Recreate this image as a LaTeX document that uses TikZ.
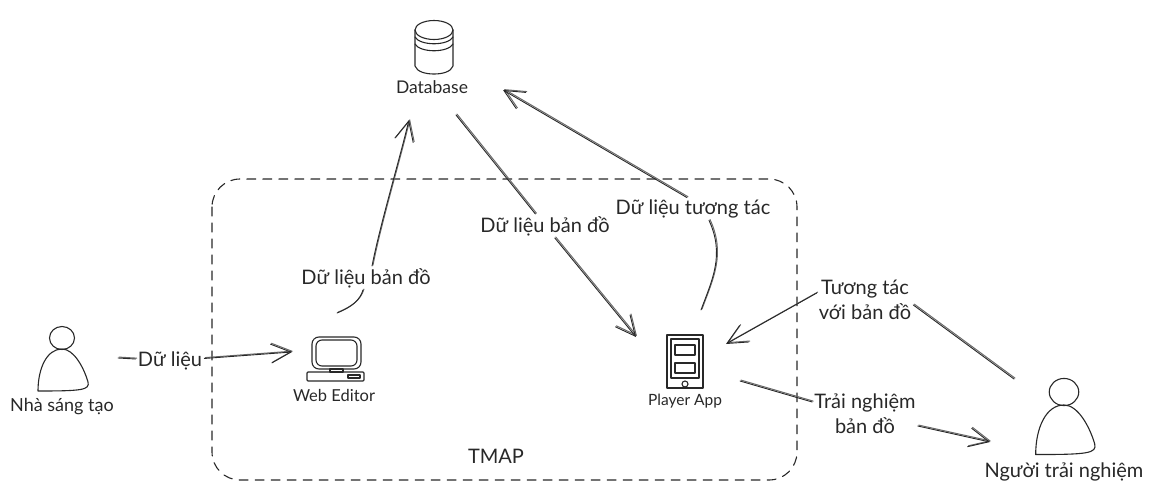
\documentclass[tikz,border=0pt]{standalone}
\usepackage{fontspec}
\setmainfont{Lato}
\usetikzlibrary{positioning, arrows.meta}
\definecolor{SketchInk}{RGB}{40,40,40}
\definecolor{SketchSoft}{RGB}{105,105,105}

\begin{document}
\begin{tikzpicture}[x=1pt, y=-1pt, line join=round, line cap=round]
        \tikzstyle{sketch} = [draw=SketchInk, line width=0.9pt,
          preaction={draw=SketchSoft, line width=1pt, transform canvas={shift={(1pt,0.9pt)}}}]
        \tikzstyle{flow} = [sketch, -{Straight Barb[length=20pt, width=19pt]}]
        \tikzstyle{icon} = [draw=SketchInk, line width=1.1pt]
        \tikzstyle{bigtext} = [text=SketchInk, inner sep=2pt, align=center,
          font=\fontsize{20}{25}\selectfont]
        \tikzstyle{smalltext} = [text=SketchInk, inner sep=1pt, font=\fontsize{16.5}{18}\selectfont]
        \useasboundingbox (0,0) rectangle (1154,498);

        % dashed frame
        \draw[draw=SketchInk, line width=1.1pt, dash pattern=on 9pt off 7pt, rounded corners=28pt]
          (212,179) rectangle (797,480);
        \node[bigtext] (lblTmap) at (496,456) {TMAP};

        % the two people
        \foreach \px/\py/\ps in {62/338/1, 1064/392/1.18} {
          \begin{scope}[shift={(\px,\py)}, scale=\ps]
            \draw[icon] (0,0) ellipse [x radius=12.5, y radius=11.5];
            \draw[icon] (-24,53) .. controls (-24,30) and (-15,11) .. (0,11)
              .. controls (12,11) and (22,30) .. (26,44)
              .. controls (28,52) and (20,53) .. (-24,53) -- cycle;
          \end{scope}
        }
        \node[smalltext, font=\fontsize{18}{18}\selectfont] (lblCreator) at (62,407) {Nhà sáng tạo};
        \node[bigtext] (lblPlayer) at (1064,472) {Người trải nghiệm};

        % database
        \draw[icon] (434,30) ellipse [x radius=19, y radius=9.5];
        \draw[icon] (415,30) -- (415,66) .. controls (417,72) and (426,74) .. (434,74)
          .. controls (442,74) and (451,72) .. (453,66) -- (453,30);
        \draw[icon] (415,37) .. controls (420,46) and (448,46) .. (453,37);
        \draw[icon] (415,44) .. controls (420,53) and (448,53) .. (453,44);
        \node[smalltext, font=\fontsize{17.5}{18}\selectfont] (lblDb) at (432,87) {Database};

        % web editor
        \draw[icon, rounded corners=7pt] (312,337) rectangle (361,369);
        \draw[icon, rounded corners=6pt] (316,340) rectangle (357,366);
        \draw[icon] (330,369) rectangle (343,372);
        \draw[icon, rounded corners=1pt] (307,372) rectangle (364,381);
        \draw[icon] (348,375) rectangle (360,378);
        \node[smalltext] (lblEditor) at (334,395) {Web Editor};

        % player app
        \draw[icon] (667,335) rectangle (703,388);
        \draw[icon] (671,339) rectangle (699,378);
        \foreach \by in {345,363}
          \draw[icon] (675,\by) rectangle (695,\by+10);
        \draw[icon] (685,384) circle [radius=3];
        \node[smalltext, font=\fontsize{15.5}{18}\selectfont] (lblApp) at (685,401) {Player App};

        % labels on the flows
        \node[bigtext] (lblData) at (170,361) {Dữ liệu};
        \node[bigtext] (lblUp) at (366,278) {Dữ liệu bản đồ};
        \node[bigtext] (lblDown) at (545,226) {Dữ liệu bản đồ};
        \node[bigtext] (lblBack) at (693,209) {Dữ liệu tương tác};
        \node[bigtext] (lblTouch) at (865,300) {Tương tác\\với bản đồ};
        \node[bigtext] (lblTry) at (865,414) {Trải nghiệm\\bản đồ};

        % free ends near the icons
        \coordinate (creatorOut) at (118,358);
        \coordinate (editorIn) at (292,352);
        \coordinate (editorOut) at (337,313);
        \coordinate (dbIn) at (409,120);
        \coordinate (dbOut) at (456,115);
        \coordinate (appIn) at (636,337);
        \coordinate (appUp) at (701,310);
        \coordinate (dbBack) at (503,90);
        \coordinate (playerOut) at (1014,379);
        \coordinate (appTouch) at (726,344);
        \coordinate (appOut) at (740,381);
        \coordinate (playerIn) at (990,442);

        % flows
        \draw[sketch] (creatorOut) -- (lblData);
        \draw[flow] (lblData) -- (editorIn);
        \draw[sketch] (editorOut) .. controls (352,307) and (360,300) .. ([xshift=-3pt]lblUp.south);
        \draw[flow] ([xshift=6pt]lblUp.north) .. controls (380,225) and (398,165) .. (dbIn);
        \draw[sketch] (dbOut) -- (lblDown);
        \draw[flow] (lblDown) -- (appIn);
        \draw[sketch] (appUp) .. controls (712,280) and (725,255) .. ([xshift=16pt]lblBack.south);
        \draw[flow] ([xshift=-6pt]lblBack.north) -- (dbBack);
        \draw[sketch] (playerOut) -- ([yshift=-5pt]lblTouch.east);
        \draw[flow] ([yshift=7pt]lblTouch.west) -- (appTouch);
        \draw[sketch] (appOut) -- ([yshift=12pt]lblTry.west);
        \draw[flow] ([yshift=-12pt]lblTry.east) -- (playerIn);
\end{tikzpicture}
\end{document}
